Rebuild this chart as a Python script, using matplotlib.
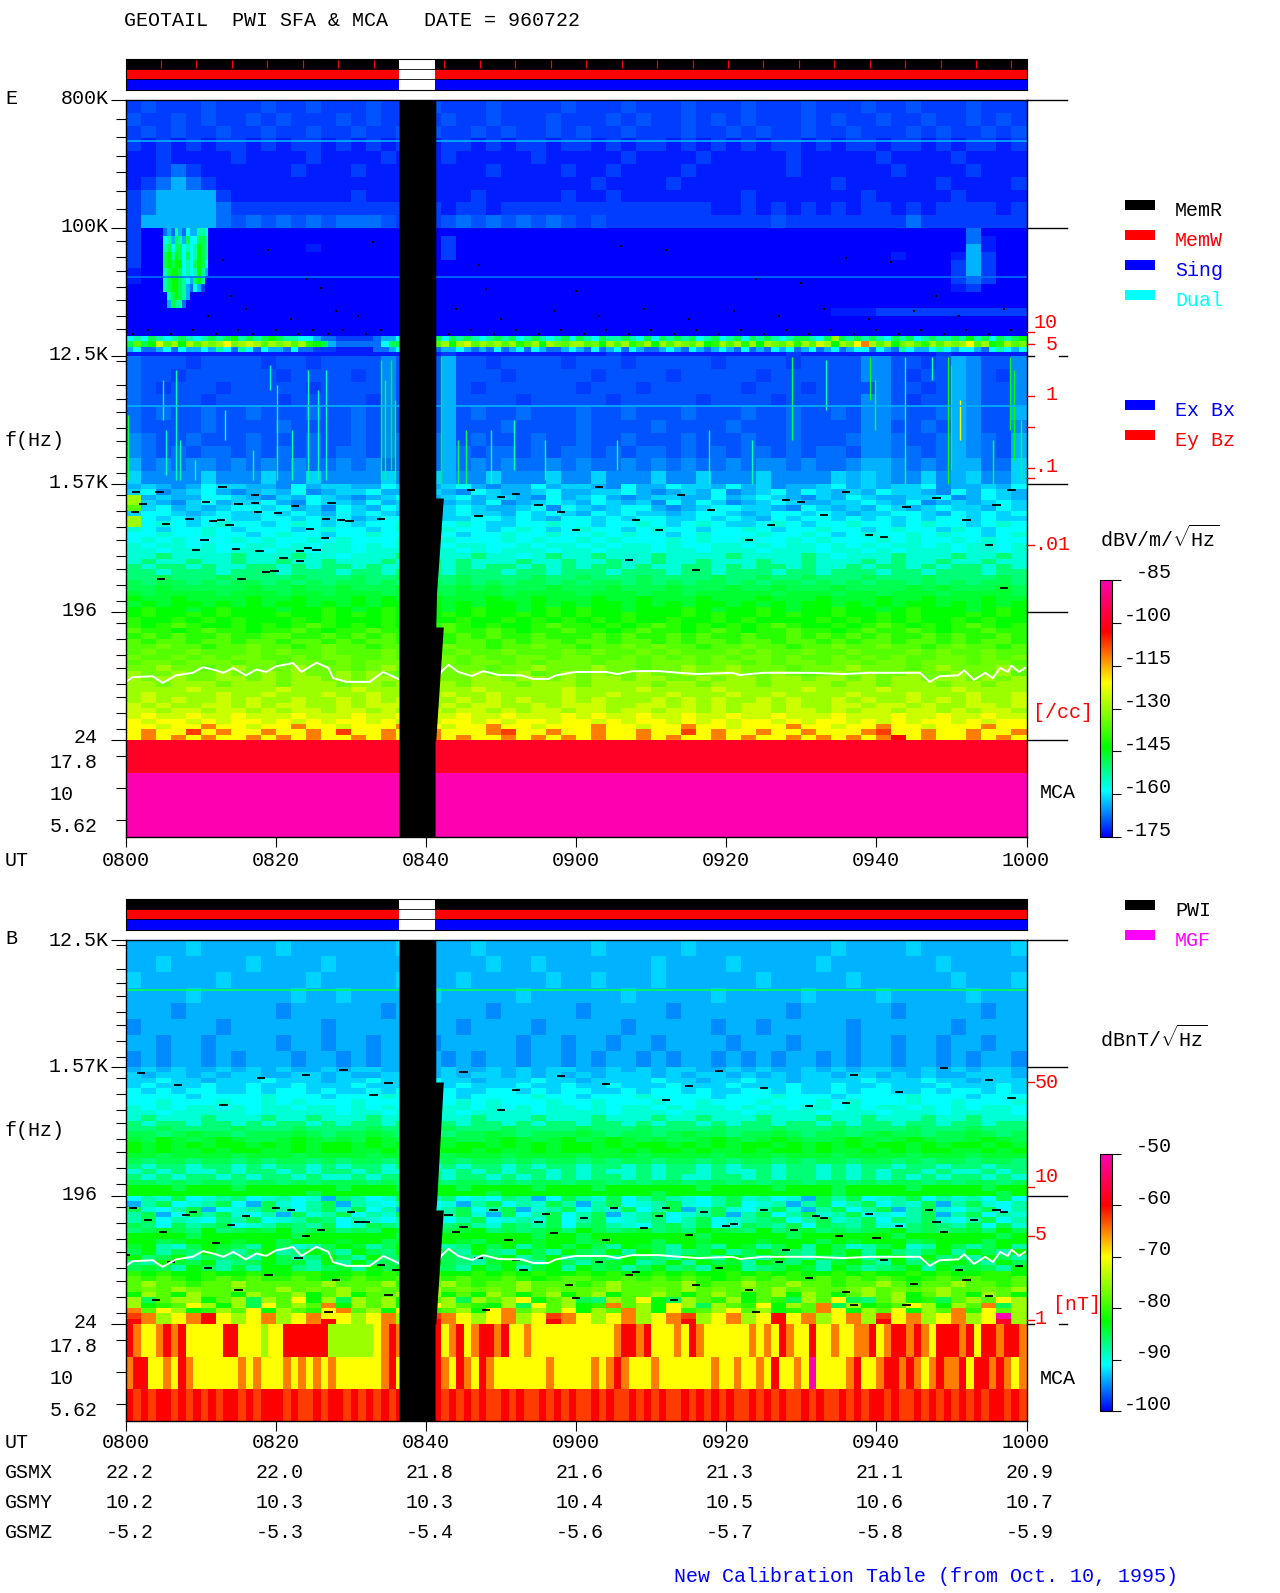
import numpy as np
import matplotlib
matplotlib.use('Agg')
import matplotlib.pyplot as plt
from matplotlib.colors import LinearSegmentedColormap, Normalize
from matplotlib.cm import ScalarMappable
from matplotlib.lines import Line2D
from matplotlib.patches import Rectangle

W, H = 1280, 1593
plt.rcParams['font.family'] = ['Liberation Mono', 'DejaVu Sans']
plt.rcParams['mathtext.fontset'] = 'custom'
plt.rcParams['mathtext.rm'] = 'Liberation Mono'
FS = 14.4

# colour codes used in the matrices below, as a fraction of the colour bar range
LEVELS = {'0': 0, '1': .02, '2': .045, 'x': .06, '3': .08, 'y': .10, '4': .125, 'z': .15, '5': .18, 'u': .21,
          '6': .24, 'v': .27, '7': .30, 'w': .32, '8': .35, 'm': .39, '9': .43, 'n': .46, 'a': .50, 'p': .55,
          'b': .60, 'c': .70, 'g': .75, 'd': .80, 'f': .84, 'e': 1.0}

# electric field, 800K-100K, 2 min columns, values estimated by eye
E_BAND1 = [
    "2x222x222x 22x222x222 x222x2222x 222x222x22 2x222x222x 22x222x222",
    "x22x2x22x2 x222x2x22x 2x22x222x2 22x2x22x2x 2x222x2x22 x22x22x2x2",
    "2x2x22x22x 22x22x22x2 x22x2x22x2 x22x222x22 x2x22x22x2 22x2x22x2x",
    "2121212212 1221212122 1221212212 2121221212 1212212122 1221212212",
    "1121111211 1121111211 1211111211 1112111121 1111211111 2111121111",
    "1123211111 1211121111 1111211112 1121111211 1111211111 1211112111",
    "1234321111 1111111111 1111111111 1211112111 1111111211 1111211112",
    "2344442111 1111121111 1112111112 1121111111 1211111112 1111121111",
    "2344443222 2222222221 2122122222 2222222221 1212121212 2121222212",
    "2444443x3x 3x3x333x22 2x3x3x3x3x 2x22222222 222x222222 2232222222",
]
# 100K-12.5K
E_BAND2 = [
    "2000000000 0000000000 0000000000 0000000000 0000000000 0000003000",
    "2000000000 0000000000 0200000000 0000000000 0000000000 0000003100",
    "2000000000 0010000000 0200000000 0000000000 0000000000 0000004100",
    "2000000000 0000000000 0200000000 0000000000 0000000000 0100014200",
    "2000000000 0000000000 0000000000 0000000000 0000000000 0000024200",
    "1000000000 0000000000 0000000000 0000000000 0000000000 0000024200",
    "1000000000 0000000000 0000000000 0000000000 0000000000 0000023200",
    "0000000000 0000000000 0000000000 0000000000 0000000000 0000012000",
    "0000000000 0000000000 0000000000 0000000000 0000000000 0000000000",
    "0000000000 0000000000 0000000000 0000000000 0000000000 0000000000",
    "0000000000 0000000000 0000000000 0000000000 0000000111 2222222222",
    "0000000000 0000000000 0000000000 0000000000 0000000000 0000000000",
    "0000000000 0000000000 0000000000 0000000000 0000000000 0000000000",
    "0000000000 0000000000 0000000000 0000000000 0000000000 0000000000",
    "0000000000 0000000000 0000000000 0000000000 0000000000 0000000000",
    "1111111111 1111111111 1211111111 1121111111 1111211111 1111211111",
]
# burst near 0805, half minute columns
E_PATCH = [
    "0034364354466500",
    "0056476475577600",
    "0067577565687600",
    "0078687575687600",
    "0078788565787500",
    "0067887565686400",
    "0067887654786000",
    "0067887643542000",
    "0006787640000000",
    "0004766300000000",
]
# ridge just above 12.5K, 1 min columns
E_RIDGE = [
    "5657656765 6767867678 7665543322 2223445666 6757676567 6756765675 "
    "7657667657 5767675675 6757676567 7657a76767 6576756766 7686757678",
    "7978p9a8a9 anabnapa9a na9am87433 3333577899 99a8ap9ana 9am9a8an9a "
    "a9n8a9am9a 8a9an9a8ma 9ama8an9am a9pa8anbca 9a8na9ma9a nab9a8ma9n",
    "4533453544 5465365354 4353322211 1113345344 5344543435 3453543345 "
    "4353453543 3454354345 4353435453 4534534553 5436544565 4554356545",
]
# 12.5K-1.57K
E_BAND3 = [
    "3xxx2xxxx2 xx2xxxxyxx x4xx2xxxx2 xxx2xxxxx2 xxxx2xxxxy yxx2x4yxxy",
    "3xx2xxxxxx 2xxxx2xyxx x4xxx2xxxx x2xxxx2xxx xx2xxxxxxy yx2xx4yx2y",
    "3x2xxx2xxx xx2xxxxyxx x4x2xxxxxx 2xxx2xxxxx x2xxx2xxxx yxx2x4yxxy",
    "3xxxx2xxxx 2xxxxx2yxx x4xxxx2xxx xx2xxxxx2x xxx2xxxxxy yx2xx4yxxy",
    "3x3xx3xx3x xx3xx3xyxx x4x3xx3xxx 3xx3xxx3xx x3xx3xx3xy y3xx34yxx4",
    "3xxxx3xxxx 3xxxx3xyxx x4xxx3xxxx 3xxxx3xxxx 3xxx3xxxxy yxx3x4yxxy",
    "y3xx3xxx3x xx3xx3xy3x 34x3xxx3xx 3xx3xxx3xx x3xx3xxx3y y3xx34y3x4",
    "y3x3x33x3x 3x3x33xy3x 343x33x3x3 3x3x33x3x3 x33x3x33xy y33x34y3x4",
    "43y3yy3y3y 3y33y3y33y 343y3y33y3 y33y3y3y33 y3yy3y33y4 4y3y34433z",
    "zyyyyzyyyz yyzyyyyzyy z4yyzyyyzy yzyyyzyyzy yyzyyyyz4z 4yyzy4zyyz",
]
# 1.57K-196
E_BAND4 = [
    "4z4y45zz44 y54zz445z4 4z54y4454z z4y5445zz4 54zy44z54z 4zz5y44z45",
    "z5y4z54y4z 45y4zz5445 z4y5z44z54 4zz54y4z45 y4z545z4z4 5zz4y545z4",
    "a4z4455z4y z45z4y4z5z 4z54zz4y54 z54y4zz445 4z5z4yz45z 44zz5y45z4",
    "az4yz54zz5 4y5zz454z4 z4z45y4z5z 45z4zy545z y4z5z44zz5 z45y4z4z5z",
    "9z54z4z55z 54zy5z45zz 4z5z44z5y5 z4z554y4z5 5zz4y5z4z4 5z4z5zz45z",
    "z55z4z5zz5 z5z45z5z4z 5z5zz45z5z 45z5zz4z55 z4z55z5z4z z55z45z5z5",
    "a5z5z55zz5 5z5z54z55z 5zz55z5z45 5z5z55zz5z 5z45z55z5z 5z5z55z5zz",
    "a5u5z5u55z 5u5z5z55u5 z5u5zz55u5 5z55u5z5u5 zz5u5z55u5 5z5u55z5u5",
    "u5z55u5z55 5z5u55z5u5 5u55z5u5z5 u55z5u55z5 5u5z55u55z 5u55zu5z55",
    "55u55u55z5 u55z55u555 u5z55u55u5 5u5u55z5u5 55u55u5z5u 55u5u55z5u",
    "5u5u555u5u 55u5u555u5 5u555u5u55 u5u555u5u5 5u55u5u555 u5u55u5u55",
    "u5uu5u55uu 5u5uu5u5u5 u5uu55u5uu 5u5uu5u55u u5u5uu5u5u 5uu5u5uu5u",
    "uu5uuu5uu5 uu5uu5uuu5 uu5u5uuu5u u5uuu5uu5u uu5uuu5uu5 u5uuu5uu5u",
    "uuvuuuuvuu uvuu5uuuvu uuuvuu5uvu uvuuuvuuuu vuuuuvu5uu uvuuuvuuvu",
    "uvuuvuuvuu vuuvuuuvuu vuvuuuvuuv uuvuuvuuvu uuvuuvuuuv uvuuvuuvuu",
    "vuvvuvuuvv uvuvvuvuuv vuvuvvuvuv uvvuvuuvvu vuvvuvuuvu vvuvuvvuvu",
    "vvuvvvuvvv uvvvuvvuvv vuvvvuvvuv vvuvvvuvvu vvvuvvuvvv uvvuvvvuvv",
    "vv7vvv7vvv v7vvv7vv7v vv7vvvv7vv 7vvv7vvvv7 vv7vv7vvv7 vvv7vvvv7v",
    "7v77v7v77v 7v7v77v7v7 7v7v7v77v7 v77v7v7v77 v7v77v7v7v 77v7v7v77v",
    "77w77777w7 7w77w777w7 77w7w777w7 77w777w777 w77w777w77 77w7w777w7",
    "w7wwww7www 7ww7www7ww w7www7wwww 7www7ww7ww www7www7ww 7www7wwww7",
    "8ww8wwww8w w8www8w8ww 8www8ww8ww w8ww8www8w ww8www8www 8ww8www8ww",
    "w8w88w8w8w 88w8w8w88w 8w8w88w8w8 w88w8w8w88 w8w8w88w8w 8w88w8w8w8",
    "8m88w8m888 w88m8w8m88 8w8m88w8m8 m88w888m8w 88m8w88m88 w8m888w8m8",
]
# 196-24
E_BAND5 = [
    "8m88m8m888 m88m8m8m88 8m8m88m8m8 m88m888m8m 88m8m88m88 m8m888m8m8",
    "m88m8m8m88 8m8m888m8m 88m88m8m8m 8m8m88m88m 8m8888m8m8 m8m88m8m88",
    "m8m9m88m8m 8m9m8m8m88 m9m8m88m9m m8m8m9m8m8 m8m9m88m8m 9m8m8m9m8m",
    "9mm8m9mm8m m9m8mm9mm8 m9mm9m8mm9 mm8m9mm8m9 m8mm9mm8m9 mm9m8mm9mm",
    "m9m9mm9mm9 9mm9m9m9mm 9m9m9mm9mm m9m9mm9m9m m9mm9m9m9m 9mm9m9mm9m",
    "9m99m99m99 m99m9m99m9 9m99m9m99m 99m99m9m99 m99m99m9m9 9m99m9m99m",
    "99n99m99n9 9m9n99m99n 9n99m99n99 m99n9n99m9 9n99m99n99 n99m9n99m9",
    "9n99n999n9 n99n999n9n 99n99n999n 9n99n9n999 n9n99n99n9 99n9n99n99",
    "n99n9n9nn9 9n9nn99n9n 9n9n99nn9n n99n9n9n9n 9nn9n99n9n 9n99nn9n9n",
    "9nn9nnn9nn 9nn9n9nnn9 nn9nn9n9nn n9nn9nnn9n n9n9nn9nn9 nn9nnn9nn9",
    "nnann9nann nannn9nann annn9nnann nann9nnann annn9nnnan nn9nannnan",
    "annannanna nannanan9n annanna9na nannannana annan9nana nnannanna9",
    "anaannaana naananaana annaanaana naanaannan aanaanaana naanaanana",
    "aanaaanaaa naaanaanaa aanaaanaaa naaaanaana aanaaaanaa naaanaanaa",
    "aaaapaaaaa paaaapaaaa aaapaaaaap aaaapaaaap aaaaapaaaa paaaapaaaa",
    "apaaaapaap aaapaapaaa apaapaaaap aapaaapaaa paapaaaapa aapaaapaap",
    "apapaapapa apaapapapa aapapapaap apaaapapap aapapaapap aapapapaap",
    "papaappapa ppaapapppa apappaapap ppaappapap appapaappa ppapaappap",
    "ppappappap appappapap pappapappa ppappappap appappapap pappapappa",
    "pbppbppbpp pbpppbppbp ppbppbpppb pbppbppbpp bppbpppbpp pbppbppbpp",
    "bpbbpbpbbp bpbpbbpbpb pbbpbpbbpb bpbpbbpbpb pbbpbpbbpb pbpbbpbpbb",
    "bbpbbcbbpb bcbbpbbbcb bpbbcbbpbb bcbbpbbcbb pbbbcbbpbb cbbpbbbcbb",
    "bcbbgbcbbc bbcbgbbcbb cbbbcgbbcb bcbbcbbgbc bbcbbcbbbc gbbcbbcbbc",
    "bcbcbcbbcb cbcbbcbcbb cbcbbcbcbc bcbbcbcbbc bcbbcbcbcb cdbcbbcbcb",
]
E_MCA = ["f", "e", "e"]

# magnetic field, 12.5K-1.57K
B_BAND1 = [
    "4444z44444 z4444444z4 444z444444 4z44444z44 4444444z44 44z444444z",
    "44z44444z4 444z44444z 4444z44z44 44444z4444 z44444z444 4444z44444",
    "z44444z444 44z44444z4 44z44444z4 4z444z4444 44z44444z4 44444z444z",
    "4444z44444 4z44z44444 z44444z444 444z44444z 44444z4444 z44444z444",
    "444y444444 y444444y44 4444y44444 y44444y444 4444y44444 4y44444y44",
    "y44444y444 444y44444y 44y4444y44 444y44444y 44y44444y4 44444y4444",
    "44y44y4444 y44y44y444 y44444y44y 44y44y4444 y444y444y4 4y44y44y44",
    "y4y44y4y44 4y44y4y44y 4y4y44y44y 4y44y4y44y 4y4y44y4y4 4y44y4y44y",
]
# 1.57K-196
B_BAND2 = [
    "4z4z44z4z4 z44z4zz44z 4z44z4z4zz 44z4z4zz44 z4z44z4z4z z44z4z4zz4",
    "z4zz4z4zz4 4zz4z44zzz 4z4zz4z4z4 z4zzz4z4zz 4z4z4zz4zz 4z4z44zzz4",
    "zz5zz4zzz5 zzz4zz5zzz 5zz4zzz5zz 4zzzz5zz4z z5zz4zzzz5 zzz5zz4zzz",
    "z5zzz5zz5z z5zzz5zzz5 zz5zzz5zz5 zz5zzz5zzz 5zzz5zz5zz 5zzz5zzz5z",
    "5z5z55zz5z 55z5zz5z55 z5zz55z5z5 5zz5z55z5z z55z5zz5z5 5zz5z55z5z",
    "5555z5555u 555z555u55 55z5555u55 z555u5555z 555u555z55 55u555z555",
    "55u555u55u 5u555u555u 55u5u555u5 5u555u55u5 55u555u5u5 55u55u555u",
    "u5u5uu5u5u u5uu5u5u5u 5uu5u5u5uu 5u5uu5u5uu 5u5u5uu5u5 uu5u5u5uu5",
    "uu5uuuuu5u uuuu5uu5uu uu5uuuu5uu uu5uuu5uuu u5uuuu5uuu 5uuu5uuuu5",
    "uvuuuvuuuv uuvuuuvuuu vuuvuuuvuu uvuuuvuuvu uuvuuuvuuv uuuvuuvuuu",
    "vuvvuvvuvu vvuvuvvuvv uvuvvuvuvv uvvuvuvvuv uvvuvvuvuv vuvvuvvuvv",
    "vv7vvvv7vv v7vvvv7vvv v7vvv7vvvv 7vvv7vvvv7 vvv7vvv7vv vv7vvv7vvv",
    "77v7w77v77 7w7v77w7v7 7v77w7v777 w7v77v7w77 v77w7v77v7 w77v77w7v7",
    "w78w7w8w77 w8w7w78w7w 8w77w8w7w8 7w8w7w77w8 w7w8w77w8w 7w8w77w8w7",
    "8w8w8w88w8 w8w88w8w8w 8w88w8w8w8 8w8w88w8w8 w88w8w8w8w 88w8w88w8w",
    "8w8ww8w88w w8w88ww8w8 w88w8ww8w8 8ww8w88w8w w8w88w8ww8 w8w88ww8w8",
    "ww7wwww7ww w7wwww7www w7www7wwww 7www7wwww7 www7www7ww ww7www7www",
    "7v77v77v7v 77v7v77v77 v7v77v7v77 v7v77v77v7 v77v7v77v7 7v7v77v77v",
    "vuvvuvvuvu vvuvuvvuvv uvuvvuvuvv uvvuvuvvuv uvvuvvuvuv vuvvuvvuvv",
    "uvuvuuvuvv uvuvvuvuuv vuvuvuvvuv uvuuvuvvuv uuvuvvuvuv uvvuvuuvuv",
    "vuvuvvuvuv vuvuuvuvvu vuvvuvuvuv uvvuvuvuuv vuvuvvuvuv uvuvuvvuvu",
    "77v7v77v77 v7v777v7v7 7v77v7v77v 77v7v77v77 v7v77v77v7 v77v7v77v7",
    "8887888788 8888788878 8878888788 8788888878 8887888788 8878888788",
    "8888888888 8878888888 8888788888 8888878888 8888888788 8888888878",
]
# 196-24
B_BAND3 = [
    "56u75u6v5u 65u4v65u75 6v5u5v6457 6u75676u56 7u65u47675 u6756u6575",
    "4675u67547 u56746u567 5u46756u76 4675u67u56 75u6467567 56u7467u56",
    "7u56745u67 6567u75647 u675674u67 56u7567467 u567u46756 7467u56756",
    "6745767u56 47u6756u76 567u475675 674u675u67 467567u675 u56746756u",
    "6756u5v675 u67v56u567 v5675u6u75 675u6v5675 u6v7567u67 5v67u56756",
    "7v576v75u6 7v675u7v67 5v76u7v675 v76u5v7675 u7v6757v67 u5v7v6757u",
    "v7w7v8v7w7 8v7wv7v8w7 v7w8v7v7wv 87v7wv7v8w 7v8v7wv7v7 w8v7v7wv87",
    "8888788888 8788888878 8888888788 7888888878 8888788888 8788888878",
    "887w888w88 7888w887w8 88w7888w88 7w888788w8 88w88878w8 887w888788",
    "w86u78w768 7u678w6786 76v8786w87 8768w76876 8w678687u6 78u6876786",
    "7867v87678 6v87687v86 8768v68768 7v86876v78 6787v68786 8v67868768",
    "8v7867v768 76v8768v76 87v6786786 v7687v6876 8768v67v86 7868v76876",
    "v68w786v78 7w6868v768 87v6w87687 67w86v8687 w687v86w87 68v7w87687",
    "7w76876w68 8v67w68786 v768786w86 87w678v768 86v78w6876 v78687w768",
    "m8m88m88m8 8mm88m8m88 m88m8m8m88 m8m88m8m88 m8m8m88m8m 88m8m88mm8",
    "9m9m8m9m9m m9m8m9mm9m 9m9mm9m8m9 9mm9m9m9m8 m9m9mm9m9m 9m8m9m9mm9",
    "9a99m99a99 999a999am9 9a9m99a999 m9a9999am9 9a99a99m99 a9m99a99m9",
    "9n9an99n99 a9n9a9n99n a9n9n9a9n9 9na99n9a9n 9n9a9n99na 9n9na99n9a",
    "8a98a998a9 9a89a899a9 a898a989a8 9a899a989a 989a8a989a 9a89a98a98",
    "a79aa89a7a 9b8a7a9a8m 9a7a9ab89a 7va9b87a9m a89m7a9b7v 9a8m79a9ba",
    "a8m9ba8a7b 9a9c8a9a8m ba9m8a7b9a 8mc9a8ba7a 9mb8a9c7a8 m9ba8a9c7a",
    "c9ba8ma9b8 a9mbc9a8ba m9a8bc9a9b 8a9ca8bm9a b9a8m9cb8a 9b8a9cmb9a",
    "gcabcdbabc abcbbabcab gcbabcabgc babcabcgab cabdbcabca gbcabcabea",
    "dcabcdbabc abcdbabcab dcbabcabdc babcabcdab cabdbcabca dbcabcabfa",
]
# MCA channels, 1 min columns
B_MCA = [
    "dcbbcdcdbb bbbddbbbab bddddddaaa aaabcdcddd ddbcdbcddc dbbcbbbbbb "
    "bbbbbcddcd bbbcbdcbbb bbbcbcbdcb bdbbcbbccd bcddcdcbdd dcdbddcddc",
    "cddbbcbdcb bbbbbcbcbb bcbcbcbcbb bbbbcdbbbb cdcbdcbdcb bbbbbbcbbb "
    "bbcbcdcbbb cbbbbbbbcb bcbbcbdbbc bebbbbcdbb cddcdcbcdc cdbddcdcbc",
    "dgdgddgdgd gdgddgdgdd dgdggdgddg dgdgdgdddg ddgdgdgdgg dgdggdgdgd "
    "ggdgdggdgd gdggdgdgdg dggdgdgdgg dgdggdgdgd dgdggdgdgd gdgdgddgdg",
]

E_DB_RANGE = (-175, -85)
B_DB_RANGE = (-100, -50)

# narrow lines, kHz and colour code
E_LINES_KHZ = [411, 45, 5.55]
E_LINES_LEVEL = ['4', '3', '4']
B_LINES_KHZ = [5.55]
B_LINES_LEVEL = ['7']

# single black cells in the 100K-12.5K band
SPECK_T = [1, 3, 6, 9, 12, 15, 17, 20, 23, 25, 27, 29, 32, 34, 43, 46, 49, 52, 55, 58, 61, 64, 67,
           70, 73, 76, 79, 82, 85, 88, 91, 94, 97, 100, 103, 106, 109, 112, 115, 118,
           11, 16, 22, 28, 31, 44, 50, 57, 63, 69, 75, 81, 87, 93, 99, 105, 111, 117,
           13, 19, 26, 33, 47, 60, 72, 84, 96, 108, 14, 24, 48, 66, 90, 102]
SPECK_KHZ = [18, 19, 18, 19, 18, 19, 18, 19, 18, 19, 18, 19, 18, 19, 18, 19, 18, 19, 18, 19, 18, 19, 18,
             19, 18, 19, 18, 19, 18, 19, 18, 19, 18, 19, 18, 19, 18, 19, 18, 19,
             24, 27, 23, 26, 24, 27, 23, 26, 24, 27, 23, 26, 24, 27, 23, 26, 24, 27,
             60, 70, 38, 80, 55, 36, 70, 44, 62, 33, 33, 44, 37, 75, 41, 58]

# black dashes (missing data), minute and image row
E_DASH_T = [1.4, 4.5, 12.9, 17.2, 10.7, 15, 17.2, 2.3, 1.2, 22.5, 20.3, 17.6, 8.5, 11.6, 12.7, 13.8, 5.4, 26.7,
            28.7, 29.8, 34, 24.5, 26.5, 10.5, 9.4, 14.7, 17.8, 23.2, 24.3, 25.4, 21, 23.2, 18.7, 19.8, 15.4, 4.7,
            27.4, 46, 50, 55, 58, 63, 68, 71, 74, 78, 83, 86, 90, 93, 96, 99, 104, 108, 112, 115, 118, 116,
            47, 52, 60, 67, 76, 88, 101, 117]
E_DASH_Y = [492, 492, 487, 495, 502, 504, 503, 504, 512, 506, 513, 512, 519, 521, 520, 525, 524, 519,
            520, 521, 519, 529, 538, 540, 550, 549, 551, 551, 548, 550, 558, 561, 572, 571, 579, 579,
            503, 490, 497, 505, 512, 487, 520, 530, 495, 510, 540, 525, 502, 515, 492, 535, 507, 498, 520, 545, 490,
            505, 516, 494, 530, 560, 570, 500, 537, 588]
B_DASH_T = [2, 7, 13, 18, 24, 29, 33, 35, 45, 52, 58, 64, 72, 79, 85, 91, 97, 103, 109, 115, 118, 50, 75, 96,
            1, 3, 5, 6, 9, 11, 14, 16, 19, 22, 24, 26, 28, 30, 32, 34, 35, 43, 45, 47, 49, 51, 53, 55, 57, 59,
            61, 63, 65, 67, 69, 71, 73, 75, 77, 79, 81, 83, 85, 87, 89, 91, 93, 95, 97, 99, 101, 103, 105, 107,
            109, 111, 113, 115, 117, 119,
            0, 4, 8, 12, 15, 20, 23, 27, 31, 36, 44, 48, 52, 56, 60, 64, 68, 72, 76, 80, 84, 88, 92, 96, 100,
            104, 108, 112, 116]
B_DASH_Y = [1073, 1085, 1105, 1078, 1075, 1070, 1095, 1083, 1072, 1090, 1076, 1084, 1100, 1071, 1088, 1106, 1075,
            1092, 1068, 1080, 1098, 1110, 1086, 1103,
            1208, 1220, 1232, 1262, 1212, 1268, 1225, 1216, 1275, 1210, 1236, 1230, 1280, 1212, 1222, 1265, 1295,
            1215, 1227, 1258, 1210, 1240, 1270, 1222, 1233, 1285, 1218, 1262, 1208, 1275, 1228, 1216, 1300, 1235,
            1212, 1268, 1224, 1290, 1210, 1262, 1230, 1278, 1218, 1236, 1305, 1214, 1260, 1226, 1284, 1210, 1232,
            1270, 1220, 1296, 1212, 1266,
            1255, 1300, 1215, 1243, 1290, 1208, 1258, 1312, 1222, 1270, 1232, 1310, 1260, 1214, 1298, 1240, 1272,
            1208, 1285, 1226, 1312, 1250, 1216, 1292, 1238, 1305, 1222, 1280, 1210]

# vertical streaks in the 12.5K-1.57K band, minute, top and bottom image row, colour code
STREAK_T = [.3, 4.9, 5.4, 6.7, 7.2, 9.2, 13.2, 16.9, 19.2, 20.1, 22.1, 24.3, 25.6, 26.7, 34, 34.5, 35.3, 35.9,
            42, 44.3, 45.3, 48.7, 51.7, 55.8, 65.5, 77.7, 83.4, 88.7, 93.3, 99.2, 99.8, 103.8, 107.4, 109.6,
            110, 111.2, 115.5, 117.8, 118.3, 119.3]
STREAK_TOP = [415, 380, 430, 370, 440, 460, 410, 450, 365, 385, 430, 370, 390, 370, 360, 380, 360, 400, 357, 440,
              430, 430, 420, 440, 440, 430, 440, 357, 360, 357, 380, 357, 357, 357, 365, 400, 440, 357, 370, 420]
STREAK_BOT = [480, 420, 475, 480, 480, 480, 440, 480, 390, 480, 480, 480, 480, 480, 480, 480, 470, 480, 484, 484,
              484, 484, 470, 480, 470, 484, 484, 440, 410, 400, 430, 484, 380, 484, 470, 440, 484, 430, 460, 480]
STREAK_LEVEL = ['7', '6', '6', '6', '6', '6', '5', '6', '6', '6', '6', '6', '6', '6', '7', '7', '8', '7', '8', '7',
                '7', '6', '6', '6', '6', '6', '6', '7', '6', '8', '7', '6', '6', '8', '7', 'b', '7', '8', '8', '7']

# white trace, Hz
LINE1_T = [0, .9, 3.6, 4.9, 6.7, 8.9, 10.3, 12, 13, 14.3, 16, 17.4, 18.7, 20, 22.3, 23.4, 25.4, 27,
           27.6, 29.4, 32.5, 34.3, 36.3]
LINE1_F = [62.8, 68, 69, 62, 70, 73, 80, 76, 73, 79, 70, 77, 74, 81, 85.6, 74, 86, 79, 67, 63, 63, 74, 66]
LINE2_T = [41.5, 42, 43, 44.3, 46.1, 47.6, 49.7, 52.7, 54.3, 56.3, 57.3, 59.9, 64, 65.5, 67.5, 71.1,
           73.7, 76.2, 80.8, 81.8, 84.9, 91.5, 95.6, 99.2, 105.8, 107.1, 108.4, 110.9, 111.7, 113,
           114.5, 115.5, 116.5, 117.5, 118, 119, 119.8]
LINE2_F = [65, 74, 83, 74, 69.3, 75, 70.4, 70, 66, 66, 70, 74, 74, 71.5, 75, 75, 73, 71.5, 73, 70.4,
           73, 73, 71.5, 73, 73, 63, 69, 70, 76, 65, 73, 67, 79, 74, 82, 74, 79]

# data gap, right edge changes with frequency
GAP_LEFT = 36.4
E_GAP_Y = [100, 498, 498, 593, 627, 627, 740, 740, 837]
E_GAP_T = [41.3, 41.3, 42.3, 41.4, 41.3, 42.3, 41.3, 41.2, 41.2]
B_GAP_Y = [940, 1082, 1082, 1203, 1210, 1210, 1324, 1324, 1421]
B_GAP_T = [41.3, 41.3, 42.3, 41.4, 41.3, 42.3, 41.3, 41.2, 41.2]

STATUS_ON = [(0, 36.4), (41.2, 78.8)]
MEM_TICKS = [0, 4.72, 9.44, 14.16, 18.88, 23.6, 28.32, 33.04, 42.48, 47.2, 51.92, 56.64, 61.36, 66.08,
             70.8, 75.52, 80.24, 84.96, 89.68, 94.4, 99.12, 103.84, 108.56, 113.28, 118]

TIME_TICKS = [0, 20, 40, 60, 80, 100, 120]
TIME_LABELS = ['0800', '0820', '0840', '0900', '0920', '0940', '1000']
GSMX = ['22.2', '22.0', '21.8', '21.6', '21.3', '21.1', '20.9']
GSMY = ['10.2', '10.3', '10.3', '10.4', '10.5', '10.6', '10.7']
GSMZ = ['-5.2', '-5.3', '-5.4', '-5.6', '-5.7', '-5.8', '-5.9']

cmap = LinearSegmentedColormap.from_list('pwi', [(0, '#0000ff'), (.18, '#00ffff'), (.35, '#00ff00'),
                                                 (.60, '#ffff00'), (.80, '#ff0000'), (1, '#ff00b0')], N=256)

fig = plt.figure(figsize=(W / 100, H / 100), dpi=100, facecolor='white')


def px_axes(x0, y0, x1, y1):
    return fig.add_axes([x0 / W, 1 - y1 / H, (x1 - x0) / W, (y1 - y0) / H])


def label(x, y, s, color='black', ha='left'):
    fig.text(x / W, 1 - y / H, s, color=color, ha=ha, va='center', fontsize=FS)


def px_line(x0, x1, y, color='black', lw=1.0):
    fig.add_artist(Line2D([x0 / W, x1 / W], [1 - y / H, 1 - y / H], color=color, lw=lw))


def px_rect(x0, y0, x1, y1, color):
    fig.add_artist(Rectangle((x0 / W, 1 - y1 / H), (x1 - x0) / W, (y1 - y0) / H, color=color, lw=0))


def to_db(code, db_range):
    return db_range[0] + LEVELS[code] * (db_range[1] - db_range[0])


def decode(rows, db_range):
    rows = [r.replace(' ', '') for r in rows]
    n = max(len(r) for r in rows)
    return np.array([[to_db(c, db_range) for c in r.ljust(n, r[-1])] for r in rows])


def draw_band(ax, rows, top, bottom, db_range, norm, t0=0, t1=120):
    z = decode(rows, db_range)
    x = np.linspace(t0, t1, z.shape[1] + 1)
    y = np.linspace(top, bottom, z.shape[0] + 1)
    ax.pcolormesh(x, y, z, cmap=cmap, norm=norm, shading='flat', linewidth=0, antialiased=False)


def panel(bands, mca_rows, mca_edges, y_ref, lines_khz, lines_level, gap_y, gap_t, db_range, minor, dash_t, dash_y):
    top, bottom = bands[0][1], mca_edges[-1]
    ax = px_axes(125.8, top, 1026.5, bottom)
    norm = Normalize(*db_range)
    for rows, y0, y1 in bands:
        draw_band(ax, rows, y0, y1, db_range, norm)
    for rows, y0, y1 in zip(mca_rows, mca_edges[:-1], mca_edges[1:]):
        draw_band(ax, [rows], y0, y1, db_range, norm)

    def f2y(hz):
        return y_ref + 128 * np.log(196 / np.asarray(hz, dtype=float)) / np.log(8)

    for khz, lev in zip(lines_khz, lines_level):
        ax.plot([0, 120], [f2y(khz * 1000)] * 2, color=cmap(norm(to_db(lev, db_range))), lw=1.2)
    ax.hlines(dash_y, np.array(dash_t) - .55, np.array(dash_t) + .55, color='black', lw=1.3, zorder=2)
    ax.plot(LINE1_T, f2y(LINE1_F), color='white', lw=1.4, zorder=2.5)
    ax.plot(LINE2_T, f2y(LINE2_F), color='white', lw=1.4, zorder=2.5)
    ax.fill_betweenx(gap_y, GAP_LEFT, gap_t, color='black', lw=0, zorder=3)

    ax.set_xlim(0, 120)
    ax.set_ylim(bottom, top)
    ax.set_xticks(TIME_TICKS)
    ax.set_xticklabels([])
    ax.tick_params(axis='x', length=7, width=.8)
    ax.set_yticks([b[1] for b in bands] + [mca_edges[0]])
    ax.set_yticklabels([])
    ax.set_yticks(minor, minor=True)
    ax.tick_params(axis='y', which='major', length=10.8, width=.8)
    ax.tick_params(axis='y', which='minor', length=7.2, width=.8)
    for s in ax.spines.values():
        s.set_linewidth(1.0)
    return ax, f2y, norm


def status(y0, y1, ticks):
    ax = px_axes(125.5, y0, 1026.5, y1)
    for row, c in zip([2, 1, 0], ['black', 'red', 'blue']):
        ax.broken_barh(STATUS_ON, (row, 1), facecolors=c)
    ax.hlines([1, 2], 0, 120, color='black', lw=.6)
    ax.vlines(ticks, 2.1, 2.95, color='red', lw=.9)
    ax.set_xlim(0, 120)
    ax.set_ylim(0, 3)
    ax.set_xticks([])
    ax.set_yticks([])
    return ax


def colorbar(y0, y1, db_range, ticks):
    cax = px_axes(1100, y0, 1112, y1)
    cb = fig.colorbar(ScalarMappable(Normalize(*db_range), cmap), cax=cax, ticks=ticks)
    cb.ax.set_yticklabels([])
    cb.ax.tick_params(length=6.5, width=.8)
    cb.outline.set_linewidth(.8)
    for t in ticks:
        label(1172, y1 - (t - db_range[0]) / (db_range[1] - db_range[0]) * (y1 - y0) - 7, str(t), ha='right')


# electric panel
minor_e = [119, 137, 156, 172, 191, 209, 241, 257, 271, 287, 300, 316, 329,
           361, 385, 399, 412, 428, 441, 457, 473,
           495, 511, 527, 540, 556, 569, 585, 601,
           623, 639, 655, 668, 684, 697, 713, 729, 756, 788, 820]
ax_e, f2y_e, norm_e = panel([(E_BAND1, 100, 228), (E_BAND2, 228, 356), (E_BAND3, 356, 484),
                             (E_BAND4, 484, 612), (E_BAND5, 612, 740)],
                            E_MCA, [740, 773, 805, 837], 612, E_LINES_KHZ, E_LINES_LEVEL,
                            E_GAP_Y, E_GAP_T, E_DB_RANGE, minor_e, E_DASH_T, E_DASH_Y)
draw_band(ax_e, E_PATCH, 228, 308, E_DB_RANGE, norm_e, t0=4, t1=12)
draw_band(ax_e, E_RIDGE, 336, 352, E_DB_RANGE, norm_e)
streak_colors = [cmap(norm_e(to_db(c, E_DB_RANGE))) for c in STREAK_LEVEL]
ax_e.vlines(STREAK_T, STREAK_TOP, STREAK_BOT, colors=streak_colors, lw=1.0, zorder=1.5)
ax_e.scatter(SPECK_T, f2y_e(np.array(SPECK_KHZ) * 1000), s=2.2, c='black', marker='s', linewidths=0, zorder=2)
status(59, 89.5, MEM_TICKS)

# magnetic panel
minor_b = [945, 969, 983, 996, 1012, 1025, 1041, 1057,
           1078, 1094, 1110, 1123, 1139, 1152, 1168, 1184,
           1207, 1223, 1239, 1252, 1268, 1281, 1297, 1313, 1340, 1372, 1404]
panel([(B_BAND1, 940, 1067), (B_BAND2, 1067, 1196), (B_BAND3, 1196, 1324)],
      B_MCA, [1324, 1357, 1389, 1421], 1196, B_LINES_KHZ, B_LINES_LEVEL,
      B_GAP_Y, B_GAP_T, B_DB_RANGE, minor_b, B_DASH_T, B_DASH_Y)
status(899, 929.5, [])

colorbar(580, 837, E_DB_RANGE, [-175, -160, -145, -130, -115, -100, -85])
colorbar(1154, 1411, B_DB_RANGE, [-100, -90, -80, -70, -60, -50])

label(124, 20, 'GEOTAIL  PWI SFA & MCA   DATE = 960722')

# left labels
for s, y, x, ha in [('800K', 99, 109, 'right'), ('100K', 227, 109, 'right'), ('12.5K', 355, 109, 'right'),
                    ('1.57K', 483, 109, 'right'), ('196', 611, 98, 'right'), ('24', 738, 98, 'right'),
                    ('17.8', 762, 98, 'right'), ('10', 794, 50, 'left'), ('5.62', 826, 98, 'right'),
                    ('12.5K', 940, 109, 'right'), ('1.57K', 1067, 109, 'right'), ('196', 1194, 98, 'right'),
                    ('24', 1323, 98, 'right'), ('17.8', 1346, 98, 'right'), ('10', 1378, 50, 'left'),
                    ('5.62', 1410, 98, 'right')]:
    label(x, y, s, ha=ha)
for s, y in [('E', 98), ('f(Hz)', 440), ('UT', 860), ('B', 938), ('f(Hz)', 1130), ('UT', 1443),
             ('GSMX', 1472), ('GSMY', 1502), ('GSMZ', 1532)]:
    label(5, y, s)

# time rows
for t, s, gx, gy, gz in zip(TIME_TICKS, TIME_LABELS, GSMX, GSMY, GSMZ):
    x = 126.3 + 7.5 * t
    label(x - 1, 860, s, ha='center')
    label(x - 1, 1443, s, ha='center')
    label(x + 3, 1472, gx, ha='center')
    label(x + 3, 1502, gy, ha='center')
    label(x + 3, 1532, gz, ha='center')

# right side ticks and scales
for y in [100, 228, 484, 612, 740, 940, 1067, 1196]:
    px_line(1026.5, 1067, y)
px_line(1026.5, 1034, 356)
px_line(1059, 1067, 356)
px_line(1059, 1067, 1324)
px_line(1026.5, 1034, 1324)
for y in [332, 344, 396, 427, 468, 478, 545, 1082, 1187, 1236, 1320]:
    px_line(1026.5, 1034, y, color='red')
for s, x, y, ha in [('10', 1058, 322, 'right'), ('5', 1058, 345, 'right'), ('1', 1058, 394, 'right'),
                    ('.1', 1058, 466, 'right'), ('.01', 1070, 544, 'right'), ('[/cc]', 1033, 713, 'left'),
                    ('50', 1035, 1082, 'left'), ('10', 1035, 1177, 'left'), ('5', 1035, 1235, 'left'),
                    ('1', 1035, 1318, 'left'), ('[nT]', 1053, 1305, 'left')]:
    label(x, y, s, color='red', ha=ha)
label(1040, 793, 'MCA')
label(1040, 1378, 'MCA')

# legends
for name, c, y in [('MemR', 'black', 200), ('MemW', 'red', 230), ('Sing', 'blue', 260), ('Dual', '#00ffff', 290),
                   ('Ex Bx', 'blue', 400), ('Ey Bz', 'red', 430), ('PWI', 'black', 900), ('MGF', '#ff00ff', 930)]:
    px_rect(1125, y, 1155, y + 10, c)
    label(1175, y + 11, name, color=c)

label(1100, 538, r'dBV/m/$\sqrt{\mathrm{Hz}}$')
label(1100, 1038, r'dBnT/$\sqrt{\mathrm{Hz}}$')
label(674, 1577, 'New Calibration Table (from Oct. 10, 1995)', color='blue')

fig.savefig('out.png', dpi=100)
